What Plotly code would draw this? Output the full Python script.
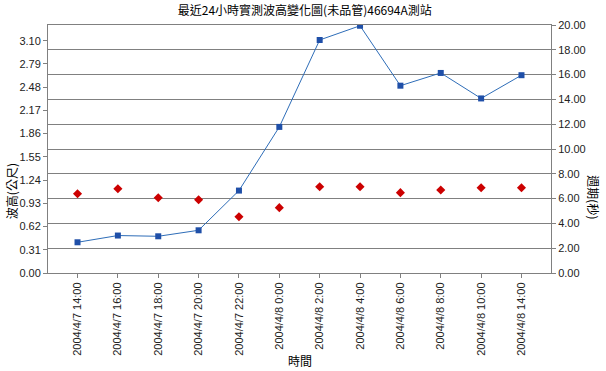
import plotly.graph_objects as go

categories = ["2004/4/7 14:00", "2004/4/7 16:00", "2004/4/7 18:00", "2004/4/7 20:00",
              "2004/4/7 22:00", "2004/4/8 0:00", "2004/4/8 2:00", "2004/4/8 4:00",
              "2004/4/8 6:00", "2004/4/8 8:00", "2004/4/8 10:00", "2004/4/8 14:00"]
wave_height = [0.41, 0.50, 0.49, 0.57, 1.10, 1.95, 3.11, 3.30, 2.50, 2.67, 2.33, 2.64]
period = [6.39, 6.80, 6.07, 5.91, 4.54, 5.27, 6.96, 6.96, 6.48, 6.69, 6.88, 6.88]
left_ticks = [0.00, 0.31, 0.62, 0.93, 1.24, 1.55, 1.86, 2.17, 2.48, 2.79, 3.10]
right_ticks = [0, 2, 4, 6, 8, 10, 12, 14, 16, 18, 20]

LAT = "Liberation Sans, Arial, sans-serif"
CJK = "Noto Sans CJK TC, sans-serif"

fig = go.Figure()
fig.add_trace(go.Scatter(
    x=categories, y=wave_height, mode="lines+markers", name="波高",
    line=dict(color="#2E6DB8", width=1),
    marker=dict(symbol="square", size=6, color="#1F4FA8"),
    yaxis="y"))
fig.add_trace(go.Scatter(
    x=categories, y=period, mode="markers", name="週期",
    marker=dict(symbol="diamond", size=7, color="#CC0000"),
    yaxis="y2"))

fig.update_layout(
    width=606, height=371,
    margin=dict(l=48, r=55, t=25, b=98, autoexpand=False),
    paper_bgcolor="white", plot_bgcolor="white",
    showlegend=False,
    font=dict(family=LAT, size=11, color="#222"),
    title=dict(text="最近24小時實測波高變化圖(未品管)46694A測站",
               x=0.503, xanchor="center", y=0.970, yanchor="middle",
               font=dict(family=CJK, size=12, color="#000")),
    xaxis=dict(type="category", tickangle=-90, showgrid=False, automargin=False,
               showline=True, linecolor="#808080", mirror=True,
               ticks="outside", ticklen=4, tickcolor="#808080",
               tickfont=dict(family=LAT, size=11, color="#222")),
    yaxis=dict(range=[0, 3.31], tickvals=left_ticks, automargin=False,
               ticktext=[f"{v:.2f}" for v in left_ticks],
               showgrid=False, zeroline=False,
               showline=True, linecolor="#808080",
               ticks="outside", ticklen=4, tickcolor="#808080",
               tickfont=dict(family=LAT, size=11, color="#222")),
    yaxis2=dict(range=[0, 20], tickvals=right_ticks, automargin=False,
                ticktext=[f"{v:.2f}" for v in right_ticks],
                overlaying="y", side="right",
                showgrid=True, gridcolor="#808080", gridwidth=1, zeroline=False,
                showline=True, linecolor="#808080",
                ticks="outside", ticklen=4, tickcolor="#808080",
                tickfont=dict(family=LAT, size=11, color="#222")),
    annotations=[
        dict(text="波高(公尺)", xref="paper", yref="paper", x=-0.0736, y=0.33,
             textangle=-90, showarrow=False, xanchor="center", yanchor="middle",
             font=dict(family=CJK, size=12, color="#000")),
        dict(text="週期(秒)", xref="paper", yref="paper", x=1.085, y=0.306,
             textangle=90, showarrow=False, xanchor="center", yanchor="middle",
             font=dict(family=CJK, size=12, color="#000")),
        dict(text="時間", xref="paper", yref="paper", x=0.50, y=-0.351,
             showarrow=False, xanchor="center", yanchor="middle",
             font=dict(family=CJK, size=12, color="#000")),
    ],
)

fig.write_html("out.html",
               config={"displayModeBar": False},
               post_script="document.body.style.margin='0';document.body.style.overflow='hidden';")
